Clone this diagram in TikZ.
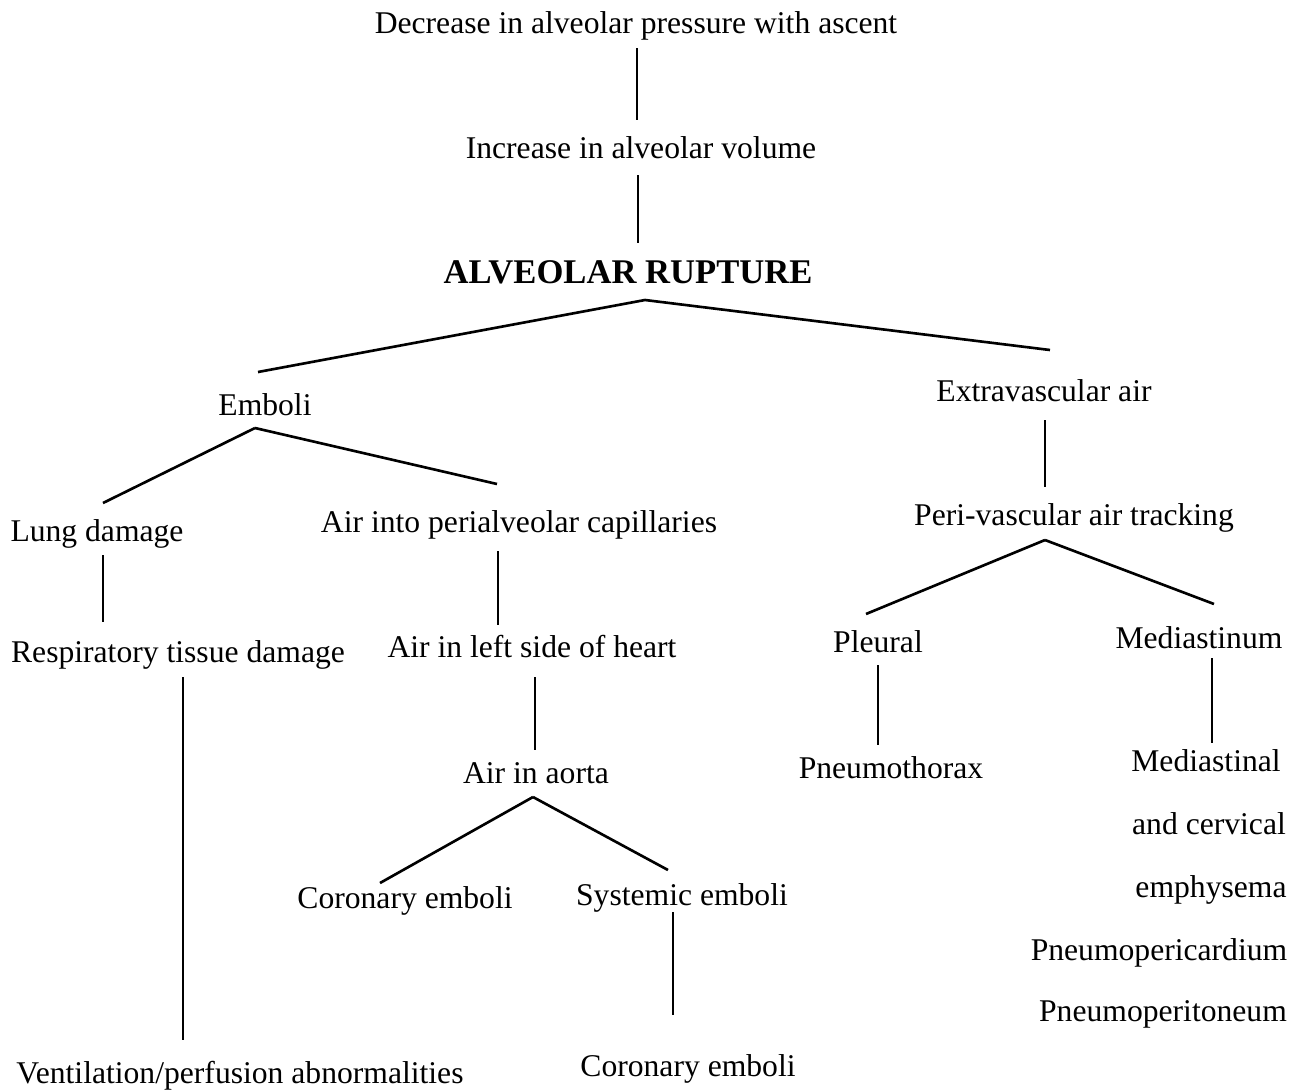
\documentclass[tikz,border=0pt]{standalone}
\usepackage{fontspec}
\setmainfont{Liberation Serif}
\begin{document}
\begin{tikzpicture}[x=0.02cm,y=-0.02cm,
  lbl/.style={inner sep=0pt,anchor=base,font=\fontsize{18}{22}\selectfont},
  hdr/.style={inner sep=0pt,anchor=base,font=\fontsize{19.7}{23}\selectfont\bfseries},
  conn/.style={line width=1.5pt}]
\useasboundingbox (0,0) rectangle (1299,1090);
% texts
\node[lbl] (dec) at (636,33) {Decrease in alveolar pressure with ascent};
\node[lbl] (inc) at (641,158) {Increase in alveolar volume};
\node[hdr] (rup) at (628,283) {ALVEOLAR RUPTURE};
\node[lbl] (emb) at (265,415) {Emboli};
\node[lbl] (ext) at (1044,401) {Extravascular air};
\node[lbl] (lung) at (97,541) {Lung damage};
\node[lbl] (cap) at (519,532) {Air into perialveolar capillaries};
\node[lbl] (peri) at (1074,525) {Peri-vascular air tracking};
\node[lbl] (resp) at (178,662) {Respiratory tissue damage};
\node[lbl] (heart) at (532,657) {Air in left side of heart};
\node[lbl] (pleu) at (878,652) {Pleural};
\node[lbl] (med) at (1199,648) {Mediastinum};
\node[lbl] (ptx) at (891,778) {Pneumothorax};
\node[lbl] (md1) at (1206,771) {Mediastinal};
\node[lbl] (md2) at (1209,834) {and cervical};
\node[lbl] (md3) at (1211,897) {emphysema};
\node[lbl] (pcd) at (1159,960) {Pneumopericardium};
\node[lbl] (ptn) at (1163,1021) {Pneumoperitoneum};
\node[lbl] (vent) at (240,1083) {Ventilation/perfusion abnormalities};
\node[lbl] (aor) at (536,783) {Air in aorta};
\node[lbl] (cor) at (405,908) {Coronary emboli};
\node[lbl] (sys) at (682,905) {Systemic emboli};
\node[lbl] (corb) at (688,1076) {Coronary emboli};
% connector end points
\coordinate (decB) at (637,48);   \coordinate (incT) at (637,120);
\coordinate (incB) at (638,175);  \coordinate (rupT) at (638,243);
\coordinate (rupB) at (645,300);  \coordinate (embT) at (258,372);
\coordinate (extT) at (1050,350);
\coordinate (embB) at (255,428);  \coordinate (lungT) at (103,503);
\coordinate (capT) at (497,484);
\coordinate (extB) at (1045,420); \coordinate (periT) at (1045,487);
\coordinate (periB) at (1045,540);\coordinate (pleuT) at (866,614);
\coordinate (medT) at (1214,604);
\coordinate (lungB) at (103,555); \coordinate (respT) at (103,622);
\coordinate (respB) at (183,677); \coordinate (ventT) at (183,1040);
\coordinate (capB) at (498,551);  \coordinate (heartT) at (498,625);
\coordinate (heartB) at (535,677);\coordinate (aorT) at (535,750);
\coordinate (aorB) at (533,797);  \coordinate (corT) at (380,883);
\coordinate (sysT) at (668,870);
\coordinate (pleuB) at (878,665); \coordinate (ptxT) at (878,745);
\coordinate (medB) at (1212,658); \coordinate (md1T) at (1212,743);
\coordinate (sysB) at (673,912);  \coordinate (corbT) at (673,1015);
% connectors
\draw[conn] (decB) -- (incT);
\draw[conn] (incB) -- (rupT);
\draw[conn] (rupB) -- (embT);
\draw[conn] (rupB) -- (extT);
\draw[conn] (embB) -- (lungT);
\draw[conn] (embB) -- (capT);
\draw[conn] (extB) -- (periT);
\draw[conn] (periB) -- (pleuT);
\draw[conn] (periB) -- (medT);
\draw[conn] (lungB) -- (respT);
\draw[conn] (respB) -- (ventT);
\draw[conn] (capB) -- (heartT);
\draw[conn] (heartB) -- (aorT);
\draw[conn] (aorB) -- (corT);
\draw[conn] (aorB) -- (sysT);
\draw[conn] (pleuB) -- (ptxT);
\draw[conn] (medB) -- (md1T);
\draw[conn] (sysB) -- (corbT);
\end{tikzpicture}
\end{document}
